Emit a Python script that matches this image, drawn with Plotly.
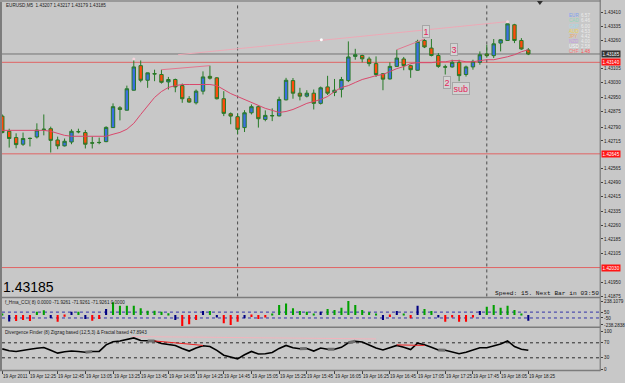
import plotly.graph_objects as go

W, H = 625, 383

# ---------------- data ----------------
bars = list(range(77))
time_idx = list(range(0, 77, 4))
time_labels = ["19 Apr 2011", "19 Apr 12:25", "19 Apr 12:45", "19 Apr 13:05", "19 Apr 13:25",
               "19 Apr 13:45", "19 Apr 14:05", "19 Apr 14:25", "19 Apr 14:45", "19 Apr 15:05",
               "19 Apr 15:25", "19 Apr 15:45", "19 Apr 16:05", "19 Apr 16:25", "19 Apr 16:45",
               "19 Apr 17:05", "19 Apr 17:25", "19 Apr 17:45", "19 Apr 18:05", "19 Apr 18:25"]

opens = [1.42849, 1.42767, 1.42733, 1.42697, 1.42729, 1.42736, 1.42776, 1.42781, 1.42720, 1.42688,
         1.42709, 1.42764, 1.42760, 1.42705, 1.42707, 1.42711, 1.42787, 1.42894, 1.42881, 1.42989,
         1.43122, 1.43043, 1.43079, 1.43074, 1.43034, 1.43047, 1.43014, 1.42943, 1.42921, 1.42984,
         1.43064, 1.43056, 1.42943, 1.42862, 1.42846, 1.42787, 1.42867, 1.42900, 1.42831, 1.42850,
         1.42850, 1.42937, 1.43041, 1.42973, 1.42957, 1.42973, 1.42918, 1.43007, 1.42977, 1.42994,
         1.43041, 1.43172, 1.43177, 1.43158, 1.43133, 1.43078, 1.43050, 1.43118, 1.43158, 1.43122,
         1.43097, 1.43258, 1.43217, 1.43177, 1.43116, 1.43115, 1.43140, 1.43074, 1.43115, 1.43140,
         1.43185, 1.43176, 1.43244, 1.43258, 1.43343, 1.43258, 1.43207]
highs = [1.42858, 1.42781, 1.42756, 1.42760, 1.42733, 1.42810, 1.42858, 1.42792, 1.42738, 1.42728,
         1.42778, 1.42781, 1.42774, 1.42738, 1.42733, 1.42794, 1.42918, 1.42903, 1.43014, 1.43158,
         1.43150, 1.43084, 1.43100, 1.43100, 1.43061, 1.43052, 1.43025, 1.42957, 1.42993, 1.43091,
         1.43122, 1.43060, 1.42984, 1.42869, 1.42864, 1.42881, 1.42912, 1.42907, 1.42880, 1.42891,
         1.42954, 1.43056, 1.43055, 1.43002, 1.42989, 1.42993, 1.43009, 1.43067, 1.43050, 1.43061,
         1.43253, 1.43213, 1.43181, 1.43170, 1.43172, 1.43082, 1.43140, 1.43208, 1.43169, 1.43127,
         1.43262, 1.43266, 1.43266, 1.43190, 1.43127, 1.43154, 1.43154, 1.43122, 1.43154, 1.43199,
         1.43235, 1.43266, 1.43265, 1.43360, 1.43348, 1.43271, 1.43217]
lows = [1.42756, 1.42679, 1.42675, 1.42688, 1.42685, 1.42728, 1.42745, 1.42652, 1.42670, 1.42685,
        1.42697, 1.42756, 1.42674, 1.42674, 1.42697, 1.42708, 1.42786, 1.42826, 1.42880, 1.42987,
        1.43032, 1.43002, 1.43038, 1.43025, 1.42993, 1.42978, 1.42921, 1.42921, 1.42912, 1.42966,
        1.43047, 1.42939, 1.42849, 1.42805, 1.42751, 1.42763, 1.42858, 1.42787, 1.42821, 1.42822,
        1.42848, 1.42934, 1.42943, 1.42934, 1.42950, 1.42885, 1.42912, 1.42963, 1.42957, 1.42950,
        1.43033, 1.43154, 1.43140, 1.43118, 1.43061, 1.42989, 1.43047, 1.43117, 1.43097, 1.43056,
        1.43095, 1.43217, 1.43172, 1.43110, 1.43074, 1.43111, 1.43038, 1.43063, 1.43100, 1.43127,
        1.43165, 1.43163, 1.43199, 1.43256, 1.43244, 1.43208, 1.43179]
closes = [1.42760, 1.42728, 1.42695, 1.42728, 1.42728, 1.42774, 1.42778, 1.42718, 1.42688, 1.42713,
          1.42767, 1.42765, 1.42697, 1.42703, 1.42706, 1.42788, 1.42900, 1.42885, 1.42997, 1.43115,
          1.43043, 1.43083, 1.43077, 1.43032, 1.43047, 1.43007, 1.42943, 1.42925, 1.42984, 1.43061,
          1.43054, 1.42943, 1.42864, 1.42849, 1.42778, 1.42867, 1.42900, 1.42835, 1.42853, 1.42852,
          1.42939, 1.43043, 1.42973, 1.42957, 1.42973, 1.42918, 1.43002, 1.42973, 1.42989, 1.43047,
          1.43169, 1.43181, 1.43159, 1.43133, 1.43074, 1.43049, 1.43118, 1.43163, 1.43122, 1.43100,
          1.43253, 1.43223, 1.43177, 1.43118, 1.43114, 1.43140, 1.43068, 1.43115, 1.43145, 1.43181,
          1.43176, 1.43240, 1.43262, 1.43348, 1.43258, 1.43212, 1.43185]

ma = [1.42772, 1.42772, 1.42772, 1.42772, 1.42772, 1.42772, 1.42772, 1.42767, 1.42756, 1.42745,
      1.42740, 1.42740, 1.42737, 1.42737, 1.42737, 1.42740, 1.42751, 1.42761, 1.42778, 1.42810,
      1.42858, 1.42907, 1.42950, 1.42982, 1.43004, 1.43014, 1.43020, 1.43020, 1.43020, 1.43020,
      1.43020, 1.43014, 1.42993, 1.42971, 1.42955, 1.42939, 1.42923, 1.42907, 1.42891, 1.42880,
      1.42869, 1.42874, 1.42885, 1.42901, 1.42918, 1.42928, 1.42939, 1.42955, 1.42982, 1.43004,
      1.43014, 1.43031, 1.43047, 1.43057, 1.43068, 1.43074, 1.43090, 1.43106, 1.43117, 1.43133,
      1.43138, 1.43138, 1.43138, 1.43143, 1.43143, 1.43149, 1.43149, 1.43143, 1.43143, 1.43149,
      1.43154, 1.43154, 1.43160, 1.43170, 1.43181, 1.43197, 1.43208]

bid_price = 1.43185
ohlc_title = "EURUSD,M5  1.43207 1.43217 1.43179 1.43185"
red_levels = [1.43140, 1.42645, 1.42030]
vline_bars = [34, 70]
trend_x = [25.4, 73]
trend_y = [1.43181, 1.43360]
mid_dot_x = [46.1]
mid_dot_y = [1.43262]
fractal_bars = [19, 73]
zig_pairs = [(23, 30), (57, 61)]

wave_text = ["1", "2", "3", "sub"]
wave_x = [61.2, 64.25, 65.2, 66.25]
wave_y = [1.43307, 1.43032, 1.43208, 1.42997]

cur_names = ["EUR", "CAD", "GBP", "AUD", "JPY", "NZD", "USD", "CHF"]
cur_vals = ["6.57", "6.46", "6.00", "4.53", "4.42", "4.00", "2.58", "1.48"]

price_ticks = [1.43410, 1.43335, 1.43260, 1.43105, 1.43030, 1.42950, 1.42875, 1.42790, 1.42715,
               1.42565, 1.42490, 1.42415, 1.42335, 1.42260, 1.42185, 1.42105, 1.41950, 1.41875]

N = None
hist_green = [20, N, N, N, N, 57, 80, N, N, N,
              N, 57, N, N, N, N, 220, 159, 159, 159,
              114, 74, 74, 57, 29, N, N, N, N, N,
              68, N, N, N, N, N, N, N, N, 20,
              170, 199, 114, 68, 57, 23, N, 102, 85, 126,
              238, 170, 85, 46, 20, N, N, N, 15, N,
              N, 102, 68, N, N, N, N, N, N, N,
              143, 170, 126, 159, 85, 23, N]
hist_red = [N, N, -100, -85, -100, N, N, N, -113, -30,
            N, N, N, -96, -68, N, N, N, N, N,
            N, N, N, N, N, N, -190, -158, -85, N,
            N, N, -141, -170, -113, N, -34, -68, -44, N,
            N, N, N, N, N, N, N, N, N, N,
            N, N, N, N, N, N, -34, N, N, -56,
            N, N, N, N, -113, -44, -113, -113, -44, N,
            N, N, N, N, N, N, N]
hist_navy = [N, -110, N, N, N, N, N, -50, N, N,
             57, N, -68, N, N, 102, N, N, N, N,
             N, N, N, N, N, -85, N, N, N, 68,
             N, -44, N, N, N, -56, N, N, N, N,
             N, N, N, N, N, N, 57, N, N, N,
             N, N, N, N, N, -85, N, 68, N, N,
             159, N, N, -44, N, N, N, N, N, 68,
             N, N, N, N, N, N, -96]
cci_levels = [50, -50]
cci_tickvals = [238, 50, -50, -170]
cci_ticktext = ["238.1079", "50", "-50", "-238.2838"]

osc = [53.8, 49, 47, 51, 53, 55.7, 57.6, 50, 42.4, 46,
       48, 47, 45, 47, 47, 64.5, 73, 75, 80, 83,
       76, 75, 75, 68, 65, 63, 55, 48, 56, 62,
       60, 50, 37, 32, 27.3, 38, 47, 40, 41, 44,
       55, 63, 57, 54, 55, 48, 56, 53, 53, 58,
       70, 74, 72, 64, 56, 51, 57, 63, 58, 52,
       69, 65, 58, 51, 50, 45, 41, 45, 51, 57,
       57, 62, 67, 75, 60, 53, 50]
osc_levels = [70, 30]
osc_ticks = [100, 70, 30, 0]
osc_gray_pairs = [(12, 13), (21, 22), (43, 44), (47, 48), (50, 51), (63, 64)]
osc_red_lines = [([22, 29], [75, 63]), ([57, 61], [64.5, 63])]
osc_pale_x = [18.7, 54]
osc_pale_y = [86.7, 80.4]

# ---------------- layout helpers (pixels -> paper) ----------------
def fx(p):
    return p / W

def fy(p):
    return 1 - p / H

BG = "#c8c8c8"
xdom = [fx(2), fx(607)]
xr = [(2 - 2.3) / 7, (607 - 2.3) / 7]
main_dom = [fy(298), fy(3)]
p2_dom = [fy(328), fy(300)]
p3_dom = [fy(372), fy(330)]
yr_main = [1.43477 - 0.0000538 * 298, 1.43477 - 0.0000538 * 3]
yr_p2 = [-(328 - 316.7) * 17, (316.7 - 300) * 17]
yr_p3 = [-(372 - 371) / 0.377, (371 - 330) / 0.377]

small = dict(family="Liberation Sans, Arial, sans-serif", size=4.6, color="#1a1a1a")

fig = go.Figure()

# main pane
fig.add_trace(go.Scatter(x=trend_x, y=trend_y, mode="lines",
                         line=dict(color="#eda9b6", width=1), xaxis="x", yaxis="y", hoverinfo="skip"))
for a, b in zig_pairs:
    fig.add_trace(go.Scatter(x=[a, b], y=[highs[a], highs[b]], mode="lines",
                             line=dict(color="#e27890", width=1), xaxis="x", yaxis="y", hoverinfo="skip"))
fig.add_trace(go.Candlestick(x=bars, open=opens, high=highs, low=lows, close=closes,
                             increasing=dict(fillcolor="#3b6fe0", line=dict(color="#277a27", width=1)),
                             decreasing=dict(fillcolor="#ff4a0c", line=dict(color="#277a27", width=1)),
                             whiskerwidth=0, xaxis="x", yaxis="y", hoverinfo="skip"))
fig.add_trace(go.Scatter(x=bars, y=ma, mode="lines", line=dict(color="#d9486c", width=1),
                         xaxis="x", yaxis="y", hoverinfo="skip"))
fig.add_trace(go.Scatter(x=fractal_bars, y=[highs[i] for i in fractal_bars], mode="markers",
                         marker=dict(size=3, color="#f6d4dc"), xaxis="x", yaxis="y", hoverinfo="skip"))
fig.add_trace(go.Scatter(x=mid_dot_x, y=mid_dot_y, mode="markers",
                         marker=dict(size=3, color="#ffffff"), xaxis="x", yaxis="y", hoverinfo="skip"))

# CCI histogram pane
for vals, col in [(hist_green, "#00a000"), (hist_red, "#ff0000"), (hist_navy, "#000080")]:
    fig.add_trace(go.Bar(x=bars, y=vals, width=0.3, marker=dict(color=col, line=dict(width=0)),
                         xaxis="x2", yaxis="y2", hoverinfo="skip"))

# Divergence pane
fig.add_trace(go.Scatter(x=osc_pale_x, y=osc_pale_y, mode="lines", line=dict(color="#f2b3bc", width=1),
                         xaxis="x3", yaxis="y3", hoverinfo="skip"))
fig.add_trace(go.Scatter(x=bars, y=osc, mode="lines", line=dict(color="#000000", width=1.6),
                         xaxis="x3", yaxis="y3", hoverinfo="skip"))
gx, gy = [], []
for a, b in osc_gray_pairs:
    gx += [a, b, None]
    gy += [osc[a], osc[b], None]
fig.add_trace(go.Scatter(x=gx, y=gy, mode="lines", line=dict(color="#6e6e6e", width=3),
                         xaxis="x3", yaxis="y3", hoverinfo="skip"))
for lx, ly in osc_red_lines:
    fig.add_trace(go.Scatter(x=lx, y=ly, mode="lines", line=dict(color="#ee2020", width=1),
                             xaxis="x3", yaxis="y3", hoverinfo="skip"))

shapes = []
# horizontal lines main
shapes.append(dict(type="line", xref="paper", yref="y", x0=xdom[0], x1=xdom[1], y0=bid_price, y1=bid_price,
                   line=dict(color="#747474", width=1), layer="below"))
for lv in red_levels:
    shapes.append(dict(type="line", xref="paper", yref="y", x0=xdom[0], x1=xdom[1], y0=lv, y1=lv,
                       line=dict(color="#e06464", width=1), layer="below"))
for vb in vline_bars:
    shapes.append(dict(type="line", xref="x", yref="paper", x0=vb, x1=vb, y0=main_dom[0], y1=main_dom[1],
                       line=dict(color="#4a4a4a", width=1, dash="dot"), layer="below"))
for lv in cci_levels:
    shapes.append(dict(type="line", xref="paper", yref="y2", x0=xdom[0], x1=xdom[1], y0=lv, y1=lv,
                       line=dict(color="#3232a8", width=1, dash="dot"), layer="below"))
for lv in osc_levels:
    shapes.append(dict(type="line", xref="paper", yref="y3", x0=xdom[0], x1=xdom[1], y0=lv, y1=lv,
                       line=dict(color="#2a2a2a", width=1, dash="dot"), layer="below"))
# frame lines
frame_col = "#7c7c7c"
shapes.append(dict(type="line", xref="paper", yref="paper", x0=fx(1), x1=fx(1), y0=fy(373), y1=1,
                   line=dict(color=frame_col, width=2)))
shapes.append(dict(type="line", xref="paper", yref="paper", x0=0, x1=fx(607), y0=fy(1), y1=fy(1),
                   line=dict(color="#9a9a9a", width=2)))
shapes.append(dict(type="line", xref="paper", yref="paper", x0=fx(607), x1=fx(607), y0=fy(373), y1=1,
                   line=dict(color="#6a6a6a", width=1)))
for py in (299, 329, 372.5):
    shapes.append(dict(type="line", xref="paper", yref="paper", x0=0, x1=fx(607), y0=fy(py), y1=fy(py),
                       line=dict(color=frame_col, width=1.5)))
shapes.append(dict(type="path", xref="paper", yref="paper",
                   path=f"M {fx(543)},{fy(1)} L {fx(549)},{fy(1)} L {fx(546)},{fy(5)} Z",
                   fillcolor="#303030", line=dict(width=0)))

ann = []
ann.append(dict(text=ohlc_title, xref="paper", yref="paper", x=fx(4), y=fy(6), xanchor="left",
                yanchor="middle", showarrow=False, font=small))
ann.append(dict(text=f"{bid_price:.5f}", xref="paper", yref="paper", x=fx(1), y=fy(289), xanchor="left",
                yanchor="middle", showarrow=False,
                font=dict(family="Liberation Sans, Arial, sans-serif", size=14, color="#000000")))
ann.append(dict(text="Speed: 15. Next Bar in 03:50", xref="paper", yref="paper", x=fx(499), y=fy(295),
                xanchor="left", yanchor="middle", showarrow=False,
                font=dict(family="Liberation Mono, Courier New, monospace", size=6.2, color="#111111")))
ann.append(dict(text="f_Hma_CCI( 8) 0.0000 -71.9261 -71.9261 -71.9261 0.0000", xref="paper", yref="paper",
                x=fx(3), y=fy(304.5), xanchor="left", yanchor="middle", showarrow=False, font=small))
ann.append(dict(text="Divergence Finder (8) Zigzag based (12,5,3) & Fractal based 47.8943", xref="paper",
                yref="paper", x=fx(3), y=fy(334.5), xanchor="left", yanchor="middle", showarrow=False,
                font=small))
# axis price boxes
ann.append(dict(text=f"{bid_price:.5f}", xref="paper", yref="y", x=fx(607.5), y=bid_price, xanchor="left",
                yanchor="middle", showarrow=False, bgcolor="#333333", borderpad=0.6,
                font=dict(family="Liberation Sans, Arial", size=4.6, color="#ffffff")))
for lv in red_levels:
    ann.append(dict(text=f"{lv:.5f}", xref="paper", yref="y", x=fx(607.5), y=lv, xanchor="left",
                    yanchor="middle", showarrow=False, bgcolor="#ff1414", borderpad=0.6,
                    font=dict(family="Liberation Sans, Arial", size=4.6, color="#ffffff")))
# time labels
for k, t in zip(time_idx, time_labels):
    ann.append(dict(text=t, xref="x3", yref="paper", x=k, xshift=-1.5, y=fy(378), xanchor="left",
                    yanchor="middle", showarrow=False, font=small))
# wave labels
for t, x, y in zip(wave_text, wave_x, wave_y):
    ann.append(dict(text=t, xref="x", yref="y", x=x, y=y, showarrow=False, xanchor="center", yanchor="middle",
                    bgcolor="#d3d3d3", bordercolor="#a6a6a6", borderwidth=1, borderpad=0.5,
                    font=dict(family="Liberation Sans, Arial", size=9, color="#e3245c")))
# currency strength panel
cur_cols = ["#7d9ff0", "#8fd6b8", "#a6d8e6", "#efd34a", "#f0a868", "#c49ae2", "#f6f6f6", "#ff7a7a"]
for k, (nm, vl, cc) in enumerate(zip(cur_names, cur_vals, cur_cols)):
    yy = fy(15.7 + 5.22 * k)
    ann.append(dict(text=nm, xref="paper", yref="paper", x=fx(573), y=yy, xanchor="left", yanchor="middle",
                    showarrow=False, font=dict(family="Liberation Sans, Arial", size=4.6, color=cc)))
    ann.append(dict(text=vl, xref="paper", yref="paper", x=fx(586), y=yy, xanchor="left", yanchor="middle",
                    showarrow=False,
                    font=dict(family="Liberation Sans, Arial", size=4.6,
                              color="#ff5050" if nm == "CHF" else "#ececec")))

xbase = dict(domain=xdom, range=xr, showgrid=False, zeroline=False, showline=False, fixedrange=True)
ybase = dict(showgrid=False, zeroline=False, showline=False, side="right", ticks="outside", ticklen=2,
             tickcolor="#404040", tickfont=small, fixedrange=True)

fig.update_layout(
    width=W, height=H, margin=dict(l=0, r=0, t=0, b=0),
    paper_bgcolor=BG, plot_bgcolor=BG, showlegend=False, barmode="overlay",
    xaxis=dict(**xbase, anchor="y", showticklabels=False, rangeslider=dict(visible=False)),
    xaxis2=dict(**xbase, anchor="y2", showticklabels=False),
    xaxis3=dict(**xbase, anchor="y3", showticklabels=False, ticks="outside", tickvals=time_idx,
                ticklen=3, tickcolor="#404040"),
    yaxis=dict(**ybase, domain=main_dom, range=yr_main, anchor="x", tickvals=price_ticks,
               ticktext=[f"{v:.5f}" for v in price_ticks]),
    yaxis2=dict(**ybase, domain=p2_dom, range=yr_p2, anchor="x2", tickvals=cci_tickvals,
                ticktext=cci_ticktext),
    yaxis3=dict(**ybase, domain=p3_dom, range=yr_p3, anchor="x3", tickvals=osc_ticks,
                ticktext=[str(v) for v in osc_ticks]),
    shapes=shapes, annotations=ann,
)

fig.write_html("out.html")
